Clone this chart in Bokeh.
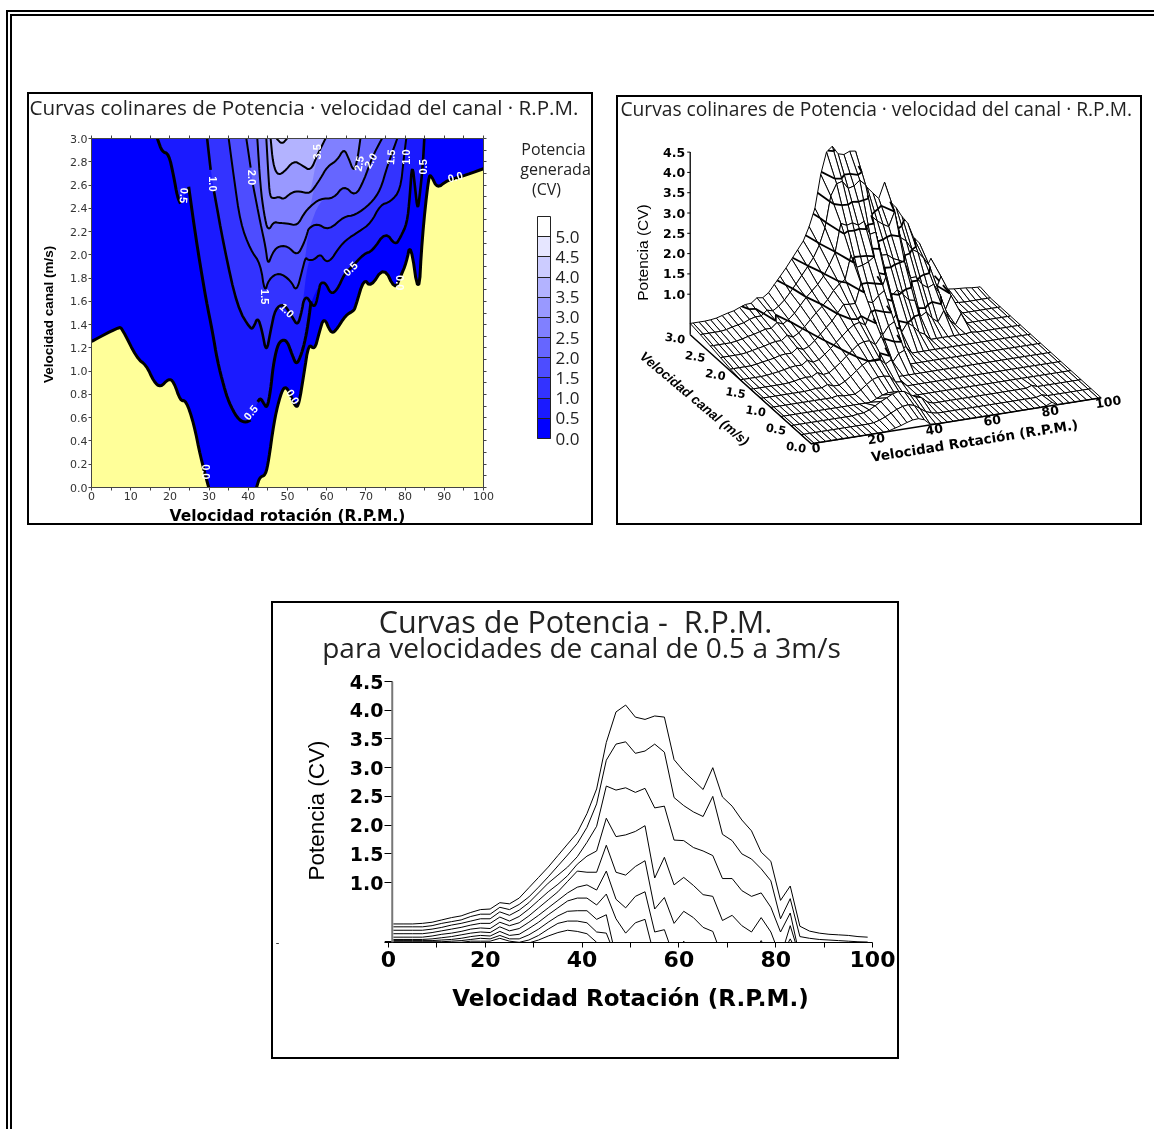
import math
from bokeh.plotting import figure
from bokeh.embed import file_html
from bokeh.resources import INLINE
from bokeh.layouts import column, row
from bokeh.core.properties import value
from bokeh.models import (Range1d, LinearAxis, FixedTicker, Label, ColorBar,
                          LinearColorMapper, Span, NumeralTickFormatter)

nan = float("nan")
SANS = "Open Sans"
WIDE = "DejaVu Sans"
NARROW = "Liberation Sans"

# ---------------- contour chart data: (R.P.M., velocity) ----------------
BAND_COLORS = ["#0000ff", "#1a1aff", "#3333ff", "#4d4dff", "#6666ff", "#8080ff",
               "#9999ff", "#b3b3ff", "#ccccff", "#e6e6ff", "#ffffff"]
YELLOW = "#ffff99"

ZERO_LEFT = [(0,1.255),(7,1.38),(7.8,1.366),(11.6,1.11),(14,1.05),(15.9,.91),(17.6,.86),
             (19.7,.937),(21,.908),(22.7,.742),(24.1,.75),(26.1,.55),(27.8,.264),(29.9,0)]
ZERO_RIGHT = [(42.1,0),(42.9,.09),(44.4,.106),(45.2,.235),(46.5,.55),(47.8,.75),(49.1,.87),
              (50.3,.837),(52,.69),(52.9,.708),(54.2,.98),(55.4,1.24),(56.9,1.18),(58,1.32),
              (59.3,1.47),(61,1.33),(62.2,1.34),(64.8,1.48),(66.9,1.52),(67.3,1.55),(69.5,1.8),
              (71.2,1.72),(74.6,1.9),(77.4,1.7),(78.8,1.81),(80.3,1.93),(81.4,2.11),(83.5,1.62),
              (84.3,2.13),(86,2.68),(86.7,2.68),(88.2,2.57),(90.7,2.64),(94.1,2.67),(100,2.74)]

LEFT_05 = [(16.8,3),(18,2.885),(19.7,2.87),(21,2.67),(21.9,2.5),(22.7,2.44),(nan,nan),(24.8,2.585),
           (26.1,2.27),(27.4,1.98),(29.3,1.6),(30.8,1.35),(32.1,1.09),(33.8,.865),(35,.736),
           (37.2,.593),(39.1,.556),(40.6,.58),(nan,nan),(42.4,.736),(43.1,.77),(44,.72),(44.8,.68),
           (45.7,.837),(46.3,1.037),(47.4,1.22),(48.6,1.27),(49.9,1.26),(51.2,1.14),(52.3,1.05),
           (53.6,1.15),(54.6,1.28),(55.4,1.44),(56,1.6)]
LEFT_10 = [(29.5,3),(30.4,2.73),(nan,nan),(31.2,2.556),(33.8,2.07),(37.2,1.55),(40.6,1.358),(41.4,1.38),
           (42.4,1.467),(43.5,1.35),(44.6,1.15),(45.7,1.35),(46.9,1.54),(49.1,1.58),(51.2,1.467),
           (52.6,1.387),(53.7,1.524)]
RIGHT_10 = [(54.1,1.61),(55,1.64),(56,1.58),(57.1,1.55),(58,1.69),(58.4,1.76),(59.7,1.76),(61.1,1.66),
            (62.7,1.7),(64.6,1.84),(66,1.88),(69.5,2.01),(71.6,2.03),(75,2.2),(77.5,2.08),(78.8,2.15),
            (80.5,2.27),(81.2,2.5),(81.8,2.8),(82.6,2.56),(83.2,2.38),(83.7,2.5),(84.5,2.76),(84.9,3)]
LEFT_15 = [(35,3),(36.3,2.67),(38,2.27),(40.6,2.04),(43.1,1.925),(44.2,1.67),(45.2,1.79),(47.8,1.85),
           (50.8,1.78),(52.3,1.68),(53.7,1.86),(54.6,1.98)]
RIGHT_15 = [(55.2,1.955),(56.7,1.955),(58.4,2.01),(59.7,1.94),(61.1,1.955),(62.7,2.04),(64.8,2.126),
            (68.2,2.2),(71.2,2.27),(73.7,2.43),(76.3,2.456),(78.8,2.556),(79.7,2.84),(80.3,3)]
LEFT_20 = [(39.5,3),(40.6,2.75),(nan,nan),(41.2,2.6),(43.1,2.27),(44.4,2.07),(45,1.91),(46.1,2.01),(47.4,2.07),
           (49.9,2.08),(52.5,1.99),(54.2,2.1),(55,2.18)]
RIGHT_20 = [(55.4,2.23),(57.6,2.27),(60.5,2.21),(64.4,2.33),(67.3,2.34),(71.2,2.44),(73.7,2.556),
            (75.4,2.756),(78,3)]
LEFT_25 = [(42.3,3),(43.1,2.585),(44,2.355),(45,2.2),(46.5,2.284),(47.8,2.275),(49.9,2.27),(52.5,2.25),
           (54.2,2.355),(55.9,2.42)]
RIGHT_25 = [(58.4,2.484),(61.8,2.484),(64.4,2.6),(67.3,2.5),(69.5,2.64),(71.6,2.84),(74.1,3)]
LEFT_30 = [(44.6,3),(45.1,2.7),(45.5,2.5),(46.5,2.484),(47.8,2.5),(49,2.476),(50.8,2.53),(52.5,2.55),
           (55,2.53),(55.9,2.54)]
RIGHT_30 = [(56.7,2.57),(58.4,2.656),(60.1,2.756),(62.7,2.814),(64.4,2.914),(65.6,2.83),(66.9,2.713),
            (67.8,2.81),(68.6,3)]
LEFT_35 = [(45.7,3),(46.3,2.785),(47.4,2.685),(49.1,2.71),(51.6,2.81),(53.7,2.77),(55.9,2.72)]
RIGHT_35 = [(57.6,2.857),(59.7,3)]
DIP_40 = [(47.2,3),(48.6,2.95),(49.9,3)]

LABEL_TEXT = ["0.5","1.0","2.0","1.5","1.0","0.5","0.0","0.0","3.5","2.5","2.0","1.5","1.0","0.5","0.0","0.5","0.0"]
LABEL_RPM = [23.6,31,41,44.2,49.9,40.6,29.1,51.4,57.6,68.2,71.2,76.3,80.3,84.5,92.8,66,78.6]
LABEL_VEL = [2.51,2.61,2.665,1.64,1.524,.645,.135,.78,2.885,2.785,2.81,2.84,2.84,2.756,2.67,1.88,1.76]
LABEL_ANG = [-95,-90,-90,-90,-45,50,-90,-60,90,80,60,85,90,90,15,45,-90]

# ---------------- power curves: one value per odd R.P.M. 1..99 ----------------
RPM = [1,3,5,7,9,11,13,15,17,19,21,23,25,27,29,31,33,35,37,39,41,43,45,47,49,51,53,55,57,59,61,63,65,67,69,
       71,73,75,77,79,81,83,85,87,89,91,93,95,97,99]
N = -.3
P300 = [.28,.28,.28,.29,.31,.35,.39,.42,.48,.53,.54,.65,.63,.73,.91,1.09,1.27,1.47,1.67,1.87,2.2,
        2.63,3.44,3.97,4.09,3.88,3.84,3.90,3.88,3.14,2.94,2.78,2.62,3.0,2.49,2.33,2.09,1.90,1.53,1.37,.69,.94,.24,
        .155,.12,.10,.09,.08,.06,.05]
P275 = [.23,.23,.23,.23,.25,.29,.32,.35,.41,.45,.45,.57,.53,.62,.75,.92,1.10,1.29,1.48,1.68,1.96,
        2.37,3.13,3.41,3.45,3.25,3.29,3.41,3.27,2.48,2.34,2.23,2.15,2.50,1.84,1.73,1.50,1.41,1.24,1.03,.37,.72,.06,
        .03,.01,0,-.01,-.02,-.03,-.035]
P250 = [.17,.17,.17,.17,.19,.22,.26,.29,.33,.37,.37,.49,.43,.52,.65,.82,.99,1.13,1.27,1.45,1.70,
        1.98,2.68,2.61,2.65,2.57,2.64,2.30,2.33,1.74,1.73,1.61,1.55,1.47,1.07,1.07,.86,.76,.82,.57,.14,.47,N,
        N,N,N,N,N,N,N]
P225 = [.11,.11,.11,.11,.13,.16,.19,.22,.26,.29,.29,.40,.33,.41,.54,.69,.84,.97,1.12,1.32,1.46,
        1.55,2.12,1.80,1.83,1.89,1.99,1.08,1.44,.96,1.09,.95,.79,.76,.34,.43,.25,.14,.39,.14,N,.25,N,
        N,N,N,N,N,N,N]
P200 = [.05,.05,.05,.05,.07,.10,.12,.15,.19,.21,.20,.31,.25,.30,.42,.56,.70,.84,1.02,1.2,1.18,
        1.18,1.65,1.18,1.13,1.28,1.38,.54,.74,.29,.50,.39,.22,.15,N,N,N,N,N,N,N,.02,N,
        N,N,N,N,N,N,N]
P175 = [.01,.01,.01,.01,.02,.04,.06,.09,.12,.14,.13,.23,.16,.20,.31,.43,.56,.69,.82,.92,.96,
        .87,1.2,.71,.56,.76,.84,.14,.18,N,-.02,N,N,N,N,N,N,N,-.01,N,N,N,N,
        N,N,N,N,N,N,N]
P150 = [-.01,-.01,-.01,-.01,-.01,0,.01,.03,.06,.08,.07,.15,.08,.10,.20,.31,.44,.56,.68,.73,.73,
        .61,.80,.37,.12,.30,.36,N,N,N,N,N,N,N,N,N,N,N,N,N,N,N,N,
        N,N,N,N,N,N,N]
P125 = [-.03,-.03,-.03,-.03,-.03,-.03,-.02,-.01,.01,.03,.02,.08,.02,.02,.09,.19,.31,.42,.50,.51,.51,
        .36,.44,N,N,N,N,N,N,N,N,N,N,N,N,N,N,N,N,N,N,N,N,
        N,N,N,N,N,N,N]
P100 = [-.04,-.04,-.04,-.04,-.04,-.04,-.04,-.04,-.02,-.02,-.02,.03,-.02,-.04,0,.08,.19,.29,.33,.33,.30,
        .14,.12,N,N,N,N,N,N,N,N,N,N,N,N,N,N,N,N,N,N,N,N,
        N,N,N,N,N,N,N]
P075 = [N,N,N,N,N,N,N,N,N,N,N,N,N,N,-.05,0,.07,.13,.17,.15,.11,
        -.04,N,N,N,N,N,N,N,N,N,N,N,N,N,N,N,N,N,N,N,N,N,
        N,N,N,N,N,N,N]
CURVES = [P300,P275,P250,P225,P200,P175,P150,P125,P100,P075]

# rows only seen on the front of the surface
S050 = [0,0,0,0,0,0,0,0,0,0,0,.02,.03,.08,.16,.24,.31,.38,.42,.40,.30,
        .22,.18,.05,0,0,0,0,0,0,0,0,0,0,0,0,0,0,0,0,0,.05,0,0,0,0,0,0,0,0]
S025 = [0,0,0,0,0,0,0,0,0,0,0,0,.01,.05,.11,.18,.25,.30,.32,.28,.18,
        .08,.03,0,0,0,0,0,0,0,0,0,0,0,0,0,0,0,0,0,0,.04,0,0,0,0,0,0,0,0]
S000 = [0,0,0,0,0,0,0,0,0,0,0,0,0,.02,.06,.10,.15,.19,.20,.15,.02,
        0,0,0,0,0,0,0,0,0,0,0,0,0,0,0,0,0,0,0,.02,.08,0,0,0,0,0,0,0,0]
SURFACE_VEL = [3,2.75,2.5,2.25,2,1.75,1.5,1.25,1,.75,.5,.25,0]
SURFACE = [P300,P275,P250,P225,P200,P175,P150,P125,P100,P075,S050,S025,S000]
CONTOUR_LEVELS = [.5,1,1.5,2,2.5,3,3.5,4]

Z_TICKS = [1,1.5,2,2.5,3,3.5,4,4.5]
V_TICKS = [0,.5,1,1.5,2,2.5,3]
R_TICKS = [0,20,40,60,80,100]

TITLE_COLINEAR = "Curvas colinares de Potencia · velocidad del canal · R.P.M."
LEGEND_TITLE = ["Potencia", "generada", "(CV)"]
TITLE_CURVES = "Curvas de Potencia -\u00a0 R.P.M."
SUBTITLE_CURVES = "para velocidades de canal de 0.5 a 3m/s"
BORDER = {"border": "2px solid black", "box-sizing": "border-box"}


def xs(pts): return [a for a, b in pts]
def ys(pts): return [b for a, b in pts]
def solid(pts): return [q for q in pts if q[0] == q[0]]


def smooth(pts, n=2):
    """Round the read polyline corners (Chaikin), piece by piece; ends stay put."""
    out, piece = [], []
    for q in list(pts) + [(nan, nan)]:
        if q[0] == q[0]:
            piece.append(q)
            continue
        for _ in range(n):
            new = [piece[0]]
            for a, b in zip(piece, piece[1:]):
                new.append((.75*a[0]+.25*b[0], .75*a[1]+.25*b[1]))
                new.append((.25*a[0]+.75*b[0], .25*a[1]+.75*b[1]))
            new.append(piece[-1])
            piece = new
        out += piece + [(nan, nan)]
        piece = []
    return out[:-1]


# ================ chart 1: filled contours ================
c = figure(width=566, height=433, x_range=Range1d(0,100), y_range=Range1d(0,3), output_backend="svg",
           toolbar_location=None, min_border_left=62, min_border_right=112, min_border_top=44,
           min_border_bottom=40, x_axis_type=None, y_axis_type=None, styles=BORDER, margin=(76,0,0,15))
c.grid.visible = False
c.outline_line_color = None


def style_axis(ax, size="11px"):
    ax.axis_line_color = "#444444"
    ax.major_tick_line_color = "#444444"
    ax.minor_tick_line_color = "#444444"
    ax.major_tick_in = 0
    ax.minor_tick_in = 0
    ax.major_tick_out = 3
    ax.minor_tick_out = 3
    ax.major_label_text_font = WIDE
    ax.major_label_text_font_size = size
    ax.major_label_text_color = "#333333"
    ax.major_label_standoff = 1


xvals = list(range(0,101,10))
xt = FixedTicker(ticks=xvals, minor_ticks=list(range(5,100,10)))
vvals = [i/5 for i in range(16)]
vt = FixedTicker(ticks=vvals, minor_ticks=[])
vvals_r = [i/10 for i in range(31)]
vtr = FixedTicker(ticks=vvals_r, minor_ticks=[])
for place, ticker, overrides in [("below",xt,None),("left",vt,{v: f"{v:.1f}" for v in vvals}),
                                 ("above",xt,{v: "" for v in xvals}),("right",vtr,{v: "" for v in vvals_r})]:
    ax = LinearAxis(ticker=ticker)
    style_axis(ax)
    if overrides:
        ax.major_label_overrides = overrides
    c.add_layout(ax, place)

bands = [(BAND_COLORS[1], LEFT_05, RIGHT_10[5:]), (BAND_COLORS[2], LEFT_10, RIGHT_15),
         (BAND_COLORS[3], LEFT_15, RIGHT_20), (BAND_COLORS[4], LEFT_20, RIGHT_25),
         (BAND_COLORS[5], LEFT_25, RIGHT_30), (BAND_COLORS[6], LEFT_30, RIGHT_35),
         (BAND_COLORS[7], LEFT_35, RIGHT_35), (BAND_COLORS[8], DIP_40, [])]
c.patch([0,100,100,0],[0,0,3,3], fill_color=BAND_COLORS[0], line_color=None)
for col, left, right in bands:
    pts = smooth(solid(left) + right)
    c.patch(xs(pts), ys(pts), fill_color=col, line_color=None)
# visible contour lines
for pts, lw in [(LEFT_05,3),(LEFT_10+RIGHT_10,2.6),(LEFT_15+RIGHT_15,2),(LEFT_20+RIGHT_20,2),
                (LEFT_25+RIGHT_25,2),(LEFT_30+RIGHT_30,2),(LEFT_35+RIGHT_35,2),(DIP_40,2)]:
    sp = smooth(pts)
    c.line(xs(sp), ys(sp), line_color="black", line_width=lw)
zl, zr = smooth(ZERO_LEFT), smooth(ZERO_RIGHT)
yl = zl + [(0,0)]
yr = zr + [(100,0)]
c.patch(xs(yl), ys(yl), fill_color=YELLOW, line_color=None)
c.patch(xs(yr), ys(yr), fill_color=YELLOW, line_color=None)
c.line(xs(zl), ys(zl), line_color="black", line_width=3)
c.line(xs(zr), ys(zr), line_color="black", line_width=3)
c.text(x=LABEL_RPM, y=LABEL_VEL, text=LABEL_TEXT, angle=LABEL_ANG, angle_units="deg", text_color="white",
       text_font=value(NARROW), text_font_style="bold", text_font_size="11px", text_align="center",
       text_baseline="middle")

mapper = LinearColorMapper(palette=BAND_COLORS, low=0, high=5.5)
bar = ColorBar(color_mapper=mapper, ticker=FixedTicker(ticks=[i/2 for i in range(11)]), width=13, height=222,
               location=(446,49), padding=0, margin=0, bar_line_color="#222222", border_line_color=None,
               background_fill_color=None, major_tick_line_color="#222222", major_tick_in=13, major_tick_out=0,
               minor_tick_line_color=None, major_label_text_font=SANS, major_label_text_font_size="17px",
               major_label_text_color="#222222", label_standoff=5, formatter=NumeralTickFormatter(format="0.0"))
c.add_layout(bar, "center")

# ================ chart 2: wire-frame surface ================
s = figure(width=526, height=430, x_range=Range1d(619,1145), y_range=Range1d(487,141), output_backend="svg",
           toolbar_location=None, min_border_left=0, min_border_right=0, min_border_top=44, min_border_bottom=40,
           x_axis_type=None, y_axis_type=None, styles=BORDER, margin=(79,0,0,23))
s.grid.visible = False
s.outline_line_color = None


def project(r, v, z):
    return 811.7 + 2.9*r - 40.33*v, 443.3 - .46*r - 36.33*v - 40.6*z


def cross(a, b, lev):
    t = (lev-a[2])/(b[2]-a[2])
    return project(a[0]+t*(b[0]-a[0]), a[1]+t*(b[1]-a[1]), lev)


SR = [0] + RPM + [100]
for j in range(len(SURFACE)-1):
    back = [max(q,0) for q in SURFACE[j]]
    front = [max(q,0) for q in SURFACE[j+1]]
    back = [back[0]] + back + [back[-1]]
    front = [front[0]] + front + [front[-1]]
    vb, vf = SURFACE_VEL[j], SURFACE_VEL[j+1]
    px, py, mx, my = [], [], [], []
    for i in range(len(SR)-2, -1, -1):
        corners = [(SR[i],vb,back[i]),(SR[i+1],vb,back[i+1]),(SR[i+1],vf,front[i+1]),(SR[i],vf,front[i])]
        pr = [project(*q) for q in corners]
        px.append([q[0] for q in pr])
        py.append([q[1] for q in pr])
        for lev in CONTOUR_LEVELS:
            hits = []
            for k in range(4):
                a, b = corners[k], corners[(k+1) % 4]
                if (a[2] < lev) != (b[2] < lev):
                    hits.append(cross(a, b, lev))
            for h in range(0, len(hits)-1, 2):
                mx.append([hits[h][0], hits[h+1][0]])
                my.append([hits[h][1], hits[h+1][1]])
    s.patches(px, py, fill_color="white", line_color="black", line_width=1)
    if mx:
        s.multi_line(mx, my, line_color="black", line_width=1.8)

ax0 = [project(0,3,0), project(0,3,4.5)]
s.line(xs(ax0), ys(ax0), line_color="black", line_width=1.3)
fl = [project(0,3,0), project(0,0,0), project(100,0,0)]
s.line(xs(fl), ys(fl), line_color="black", line_width=1.5)
for z in Z_TICKS:
    a, b = project(0,3,z)
    s.segment([a-3],[b],[a],[b], line_color="black")
    s.add_layout(Label(x=a-5, y=b, text=f"{z:.1f}", text_font=WIDE, text_font_style="bold", text_font_size="12.5px",
                       text_align="right", text_baseline="middle", text_color="black"))
for v in V_TICKS:
    a, b = project(0,v,0)
    s.add_layout(Label(x=a-15, y=b+3, text=f"{v:.1f}", text_font=WIDE, text_font_style="bold", text_font_size="11.5px",
                       text_align="center", text_baseline="middle", angle=-10, angle_units="deg", text_color="black"))
for r in R_TICKS:
    a, b = project(r,0,0)
    s.add_layout(Label(x=a+7 if r else a+5, y=b+4, text=str(r), text_font=WIDE, text_font_style="bold", text_font_size="12.5px",
                       text_align="center", text_baseline="middle", angle=9, angle_units="deg", text_color="black"))
s.add_layout(Label(x=975, y=440, text="Velocidad Rotación (R.P.M.)", text_font=WIDE, text_font_style="bold",
                   text_font_size="13.5px", text_align="center", text_baseline="middle", angle=9, angle_units="deg",
                   text_color="black"))
s.add_layout(Label(x=695, y=398, text="Velocidad canal (m/s)", text_font=NARROW, text_font_size="13.5px",
                   text_align="center", text_baseline="middle", angle=-40, angle_units="deg", text_color="black",
                   text_font_style="bold italic"))
s.add_layout(Label(x=643, y=252, text="Potencia (CV)", text_font=NARROW, text_font_size="15.5px",
                   text_align="center", text_baseline="middle", angle=90, angle_units="deg", text_color="black"))

# ================ chart 3: power curves ================
l = figure(width=628, height=458, x_range=Range1d(-.83,100), y_range=Range1d(-.043,4.5), output_backend="svg",
           toolbar_location=None, min_border_left=111, min_border_right=29, min_border_top=78, min_border_bottom=119,
           styles=BORDER, margin=(76,0,0,259))
l.grid.visible = False
l.outline_line_color = None
for curve in CURVES:
    l.line(RPM, curve, line_color="black", line_width=1)
xa, ya = l.xaxis[0], l.yaxis[0]
xa.ticker = FixedTicker(ticks=R_TICKS, minor_ticks=[10,30,50,70,90])
xa.major_tick_in = xa.minor_tick_in = 0
xa.major_tick_out = xa.minor_tick_out = 5
xa.major_label_text_font = WIDE
xa.major_label_text_font_style = "bold"
xa.major_label_text_font_size = "22px"
xa.major_label_text_color = "black"
xa.major_label_standoff = 3
ya.ticker = FixedTicker(ticks=Z_TICKS, minor_ticks=[])
ya.major_label_overrides = {z: f"{z:.1f}" for z in Z_TICKS}
ya.axis_line_color = None
ya.major_tick_in = 8
ya.major_tick_out = 0
ya.major_label_text_font = WIDE
ya.major_label_text_font_style = "bold"
ya.major_label_text_font_size = "19px"
ya.major_label_text_color = "black"
ya.major_label_standoff = 1
l.add_layout(Span(location=.77, dimension="height", line_color="#777777", line_width=2))
l.segment([-.83],[-.043],[.77],[-.043], line_color="black", line_width=3)

# ================ texts outside the plotting frames, over the whole page ================
T = figure(width=1154, height=1129, x_range=Range1d(0,1154), y_range=Range1d(1129,0), output_backend="svg",
           toolbar_location=None, min_border=0, x_axis_type=None, y_axis_type=None,
           background_fill_color=None, border_fill_color=None, outline_line_color=None)
T.grid.visible = False


def put(px, py, text, size, font=SANS, style="normal", align="left", angle=0, color="#222222"):
    T.text(x=[px], y=[py], text=[text], angle=angle, angle_units="deg", text_color=color,
           text_font=value(font), text_font_style=style, text_font_size=size,
           text_align=align, text_baseline="middle")


put(29,106,TITLE_COLINEAR,"20.6px")
put(553,148,LEGEND_TITLE[0],"16px",align="center")
put(555,168,LEGEND_TITLE[1],"16px",align="center")
put(546,188,LEGEND_TITLE[2],"16px",align="center")
put(48,312,"Velocidad  canal (m/s)","13.5px",font=NARROW,style="bold",align="center",angle=90,color="black")
put(287,515,"Velocidad rotación (R.P.M.)","15.5px",font=WIDE,style="bold",align="center",color="black")
put(620,108,TITLE_COLINEAR,"19.2px")
put(575,620,TITLE_CURVES,"30.5px",align="center")
put(581,646,SUBTITLE_CURVES,"28px",align="center")
put(316,810,"Potencia (CV)","22.5px",font=NARROW,align="center",angle=90,color="black")
put(630,997,"Velocidad Rotación (R.P.M.)","23px",font=WIDE,style="bold",align="center",color="black")
put(277,941,"-","11px",color="black",align="center")

overlay = row(T, width=1154, height=1129, styles={"position":"fixed","left":"0px","top":"0px"})
page = column(row(c, s), l, overlay, width=1148, height=1119,
              styles={"position":"fixed","left":"6px","top":"10px","border-left":"6px double black",
                      "border-top":"6px double black","box-sizing":"border-box"})
open("out.html", "w").write(file_html(page, INLINE))
